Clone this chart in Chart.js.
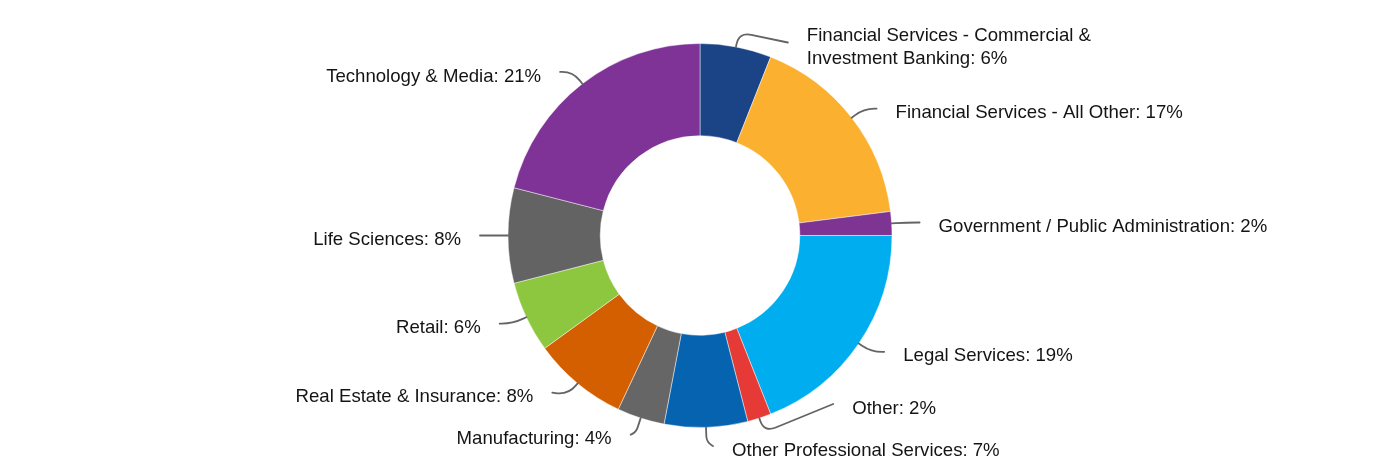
<!DOCTYPE html>
<html>
<head>
<meta charset="utf-8">
<script src="https://cdn.jsdelivr.net/npm/chart.js@4/dist/chart.umd.min.js"></script>
<style>
  html, body { margin: 0; padding: 0; background: #ffffff; }
  #wrap { width: 1400px; height: 472px; position: relative; }
</style>
</head>
<body>
<div id="wrap"><canvas id="c"></canvas></div>
<script>
// ---- data ----
const categories = [
  ['Financial Services - Commercial &', 'Investment Banking'],
  'Financial Services - All Other',
  'Government / Public Administration',
  'Legal Services',
  'Other',
  'Other Professional Services',
  'Manufacturing',
  'Real Estate & Insurance',
  'Retail',
  'Life Sciences',
  'Technology & Media'
];
const shares = [6, 17, 2, 19, 2, 7, 4, 8, 6, 8, 21];
const sliceColors = ['#1B4486', '#FBB12F', '#7E3493', '#00AEEF', '#E53A35', '#0563B0',
                     '#666666', '#D35F00', '#8DC63F', '#636363', '#7F3396'];

// ---- label layout helpers ----
function distribute(list, top, bottom) {
  let cl = list.map(it => ({ items: [it] }));
  const place = c => {
    let off = 0;
    c.offs = c.items.map(it => { const o = off + it.h / 2; off += it.h; return o; });
    c.size = off;
    c.top = c.items.reduce((a, it, k) => a + it.target - c.offs[k], 0) / c.items.length;
    c.top = Math.min(Math.max(c.top, top), bottom - c.size);
  };
  cl.forEach(place);
  let merged = true;
  while (merged) {
    merged = false;
    for (let k = 0; k < cl.length - 1; k++) {
      if (cl[k].top + cl[k].size > cl[k + 1].top + 0.01) {
        cl[k] = { items: cl[k].items.concat(cl[k + 1].items) };
        place(cl[k]);
        cl.splice(k + 1, 1);
        merged = true;
        break;
      }
    }
  }
  cl.forEach(c => c.items.forEach((it, k) => { it.y = c.top + c.offs[k]; }));
}

function smoothLine(ctx, p0, p1, p2, smooth) {
  ctx.beginPath();
  ctx.moveTo(p0[0], p0[1]);
  const d1 = Math.hypot(p1[0] - p0[0], p1[1] - p0[1]);
  const d2 = Math.hypot(p2[0] - p1[0], p2[1] - p1[1]);
  if (!d1 || !d2) { ctx.lineTo(p1[0], p1[1]); ctx.lineTo(p2[0], p2[1]); ctx.stroke(); return; }
  const m = Math.min(d1, d2) * smooth;
  const a = [p1[0] + (p0[0] - p1[0]) * m / d1, p1[1] + (p0[1] - p1[1]) * m / d1];
  const b = [p1[0] + (p2[0] - p1[0]) * m / d2, p1[1] + (p2[1] - p1[1]) * m / d2];
  ctx.lineTo(a[0], a[1]);
  ctx.quadraticCurveTo(p1[0], p1[1], b[0], b[1]);
  ctx.lineTo(p2[0], p2[1]);
  ctx.stroke();
}

const outsideLabels = {
  id: 'outsideLabels',
  afterDatasetsDraw(chart) {
    const ctx = chart.ctx;
    const meta = chart.getDatasetMeta(0);
    const L1 = 15, L2 = 13, GAP = 19, LH = 23, PAD = 19;
    const TOP = 10, BOTTOM = chart.height - 5;
    const items = meta.data.map((arc, i) => {
      const p = arc.getProps(['x', 'y', 'startAngle', 'endAngle', 'outerRadius'], true);
      const mid = (p.startAngle + p.endAngle) / 2;
      const cos = Math.cos(mid), sin = Math.sin(mid);
      const R = p.outerRadius;
      const cat = chart.data.labels[i];
      const lines = Array.isArray(cat) ? cat.slice() : [cat];
      lines[lines.length - 1] += ': ' + chart.data.datasets[0].data[i] + '%';
      return {
        cx: p.x, cy: p.y, R,
        p0: [p.x + R * cos, p.y + R * sin],
        e: [p.x + (R + L1) * cos, p.y + (R + L1) * sin],
        dir: cos >= 0 ? 1 : -1,
        target: p.y + (R + L1) * sin,
        h: lines.length * LH + PAD,
        lines
      };
    });
    [1, -1].forEach(dir => {
      const side = items.filter(it => it.dir === dir).sort((a, b) => a.target - b.target);
      distribute(side, TOP, BOTTOM);
    });
    ctx.save();
    ctx.strokeStyle = '#646464';
    ctx.lineWidth = 1.8;
    ctx.lineCap = 'round';
    ctx.lineJoin = 'round';
    ctx.font = '18.6px "Liberation Sans", Arial, Helvetica, sans-serif';
    ctx.fillStyle = '#141414';
    ctx.textBaseline = 'middle';
    items.forEach(it => {
      const dy = it.y - it.cy;
      const rr = it.R + L1;
      const dx = Math.sqrt(Math.max(0, rr * rr - dy * dy));
      const endX = it.cx + it.dir * (dx + L2);
      smoothLine(ctx, it.p0, it.e, [endX, it.y], 0.85);
      const tx = endX + it.dir * GAP;
      ctx.textAlign = it.dir > 0 ? 'left' : 'right';
      const n = it.lines.length;
      it.lines.forEach((ln, k) => {
        const ty = it.y + 4.5 + (k - (n - 1) / 2) * LH;
        ctx.fillText(ln, tx, ty);
      });
    });
    ctx.restore();
  }
};

new Chart(document.getElementById('c'), {
  type: 'doughnut',
  data: {
    labels: categories,
    datasets: [{
      data: shares,
      backgroundColor: sliceColors,
      borderColor: 'rgba(255,255,255,0.45)',
      borderWidth: 1,
      hoverOffset: 0
    }]
  },
  options: {
    responsive: true,
    maintainAspectRatio: false,
    animation: false,
    cutout: '52%',
    layout: { padding: { top: 43, bottom: 44, left: 0, right: 0 } },
    plugins: {
      legend: { display: false },
      tooltip: { enabled: false }
    }
  },
  plugins: [outsideLabels]
});
</script>
</body>
</html>
